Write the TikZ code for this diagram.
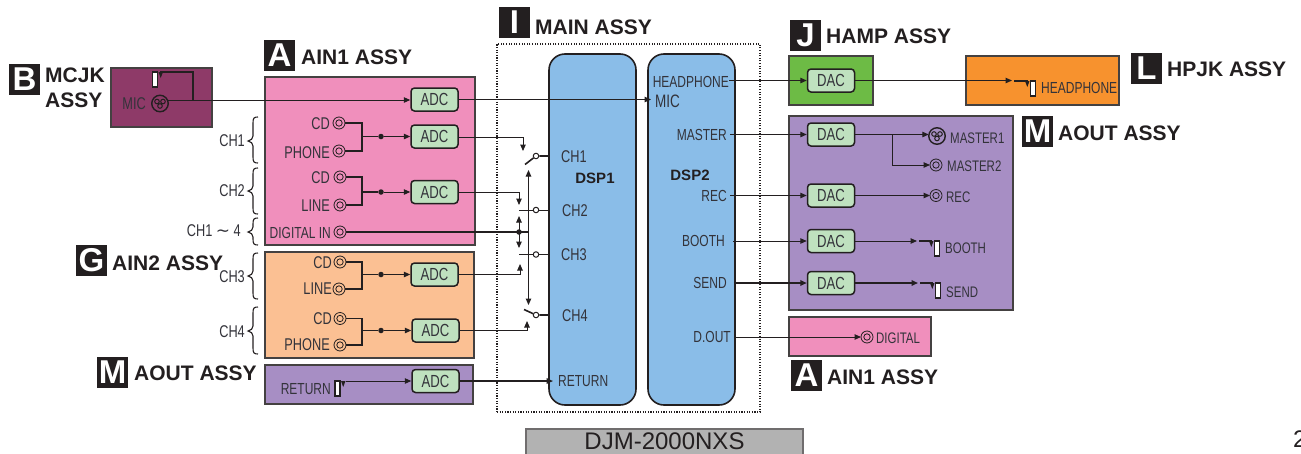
\documentclass[tikz,border=0pt]{standalone}
\usepackage{fontspec}
\setmainfont{Liberation Sans}
\newfontfamily\cond[FakeStretch=0.75]{Liberation Sans}
\newfontfamily\djfont{DejaVu Sans}
\usetikzlibrary{arrows.meta}
\definecolor{ink}{HTML}{231F20}
\definecolor{txt}{HTML}{33333A}
\definecolor{mcjkc}{HTML}{8E3A68}
\definecolor{pinkc}{HTML}{F08FBC}
\definecolor{peach}{HTML}{FBC093}
\definecolor{purp}{HTML}{A78EC4}
\definecolor{dspc}{HTML}{8ABDE8}
\definecolor{grn}{HTML}{6DBB45}
\definecolor{orng}{HTML}{F7922E}
\definecolor{chip}{HTML}{BFE1BF}
\tikzset{
 x=1pt,y=-1pt,
 >={Triangle[length=6.5pt,width=5.5pt]},
 wire/.style={draw=ink,line width=1pt},
 bus/.style={draw=ink,line width=1.6pt},
 assy/.style={draw=ink!85!white,line width=1.6pt,inner sep=0,outer sep=0},
 chipbox/.style={draw=ink,fill=chip,line width=1.5pt,rounded corners=3.5pt,minimum width=47pt,minimum height=23pt,inner sep=0,font=\cond\fontsize{17.5}{17}\selectfont,text=txt},
 dspbox/.style={draw=ink,fill=dspc,line width=1.6pt,rounded corners=16pt,minimum width=87pt,minimum height=351pt,inner sep=0},
 lbl/.style={font=\cond\fontsize{16}{16}\selectfont,text=txt,inner sep=0},
 big/.style={font=\cond\fontsize{17}{17}\selectfont,text=txt,inner sep=0},
 smalllab/.style={font=\cond\fontsize{15.3}{16}\selectfont,text=txt,inner sep=0},
 head/.style={font=\bfseries\fontsize{21}{22}\selectfont,text=ink,inner sep=0,anchor=west},
 badge/.style={fill=ink,text=white,minimum size=31pt,inner sep=0,font=\bfseries\fontsize{33}{33}\selectfont},
 coaxj/.style={circle,draw=ink,line width=0.8pt,minimum size=12pt,inner sep=0,outer sep=0},
 xlrj/.style={circle,draw=ink,line width=1.4pt,minimum size=16.5pt,inner sep=0,outer sep=0},
 phonej/.style={draw=ink,fill=white,line width=1.3pt,minimum width=5pt,minimum height=15pt,inner sep=0,outer sep=0,anchor=north},
 dotj/.style={circle,fill=ink,minimum size=5.5pt,inner sep=0},
 contact/.style={circle,draw=ink,fill=white,line width=1pt,minimum size=5.5pt,inner sep=0},
}
\newcommand{\coaxat}[3]{\node[coaxj] (#1) at (#2,#3) {}; \draw[ink,line width=0.8pt] (#1.center) circle (3.2pt);}
\newcommand{\xlrat}[3]{\node[xlrj] (#1) at (#2,#3) {};
 \draw[ink,line width=1pt] (#2-3,#3-2) circle (2.3pt) (#2+3,#3-2) circle (2.3pt) (#2,#3+2.5) circle (2.3pt);}
% phone jack fed from the left
\newcommand{\phoneat}[3]{\node[phonej] (#1) at (#2,#3) {};
 \coordinate (#1v) at (#2-5,#3);
 \fill[ink] (#2-8,#3) -- (#2-3.5,#3) -- (#2-5.7,#3+6) -- cycle;}
% phone jack whose lead leaves to the right
\newcommand{\phonerat}[3]{\node[phonej] (#1) at (#2,#3) {};
 \coordinate (#1v) at (#2+5,#3);
 \fill[ink] (#2+3.5,#3) -- (#2+8,#3) -- (#2+5.7,#3+6) -- cycle;}
\newcommand{\bracepath}[4]{\draw[ink,line width=1.1pt] (#1+10,#2) .. controls (#1+6,#2) and (#1+5,#2+1) .. (#1+5,#2+6) -- (#1+5,#3-5) .. controls (#1+5,#3-2) and (#1+3,#3-1) .. (#1,#3) .. controls (#1+3,#3+1) and (#1+5,#3+2) .. (#1+5,#3+5) -- (#1+5,#4-6) .. controls (#1+5,#4-1) and (#1+6,#4) .. (#1+10,#4);}
\begin{document}
\begin{tikzpicture}
\useasboundingbox (0,0) rectangle (1301,453);
% assemblies
\node[draw=ink,line width=1.1pt,dash pattern=on 1.1pt off 1.5pt,minimum width=263pt,minimum height=368pt,inner sep=0] (mainbox) at (628.5,228) {};
\node[assy,fill=mcjkc,minimum width=101pt,minimum height=59pt] (mcjk) at (161.5,97.5) {};
\node[assy,fill=pinkc,minimum width=210pt,minimum height=168pt] (ain1) at (370,161) {};
\node[assy,fill=peach,minimum width=209pt,minimum height=106pt] (ain2) at (369.5,305) {};
\node[assy,fill=purp,minimum width=208pt,minimum height=39pt] (aoutl) at (369,384.5) {};
\node[assy,fill=grn,minimum width=84pt,minimum height=49pt] (hamp) at (831,80.5) {};
\node[assy,fill=orng,minimum width=153pt,minimum height=49pt] (hpjk) at (1042.5,80.5) {};
\node[assy,fill=purp,minimum width=224pt,minimum height=194pt] (aoutr) at (901,213) {};
\node[assy,fill=pinkc,minimum width=142pt,minimum height=39pt] (ain1s) at (860,336.5) {};
\node[dspbox] (dsp1) at (592.5,229.5) {};
\node[dspbox] (dsp2) at (691.5,229.5) {};
\node[draw=ink!65!white,fill=black!30,line width=1.5pt,minimum width=277pt,minimum height=28pt,inner sep=0] (djm) at (664.5,443) {};
\node[inner sep=0,font=\fontsize{24}{24}\selectfont,text=ink] (djmt) at (664.5,441.5) {DJM-2000NXS};
\node[inner sep=0,anchor=west,font=\fontsize{24}{24}\selectfont,text=ink] (pageno) at (1293,439.5) {2};
% headings
\node[badge] (bB) at (24.5,79.5) {B};
\node[head] (hB1) at (45,75) {MCJK};
\node[head] (hB2) at (45,100) {ASSY};
\node[badge] (bA) at (279.5,55.5) {A};
\node[head] (hA) at (301,57) {AIN1 ASSY};
\node[badge] (bG) at (91.5,260.5) {G};
\node[head] (hG) at (112,263) {AIN2 ASSY};
\node[badge] (bM) at (112.5,372.5) {M};
\node[head] (hM) at (134,373.5) {AOUT ASSY};
\node[badge] (bI) at (514.5,22.5) {I};
\node[head] (hI) at (535,27) {MAIN ASSY};
\node[badge] (bJ) at (805.5,35.5) {J};
\node[head] (hJ) at (826,36) {HAMP ASSY};
\node[badge] (bL) at (1146.5,68.5) {L};
\node[head] (hL) at (1167,69) {HPJK ASSY};
\node[badge] (bM2) at (1037.5,131.5) {M};
\node[head] (hM2) at (1058,133) {AOUT ASSY};
\node[badge] (bA2) at (806.5,375.5) {A};
\node[head] (hA2) at (827,377) {AIN1 ASSY};
\node[inner sep=0,font=\bfseries\fontsize{15}{15}\selectfont,text=ink] (d1) at (595,178) {DSP1};
\node[inner sep=0,font=\bfseries\fontsize{15}{15}\selectfont,text=ink] (d2) at (690,175) {DSP2};
% converters
\node[chipbox] (adc0) at (434.5,99.5) {ADC};
\node[chipbox] (adc1) at (434.5,136.5) {ADC};
\node[chipbox] (adc2) at (434.5,192) {ADC};
\node[chipbox] (adc3) at (434.5,274.5) {ADC};
\node[chipbox] (adc4) at (435.5,330.5) {ADC};
\node[chipbox] (adc5) at (435.5,381) {ADC};
\node[chipbox] (dac0) at (831,80.5) {DAC};
\node[chipbox] (dac1) at (831,134.5) {DAC};
\node[chipbox] (dac2) at (831,195.5) {DAC};
\node[chipbox] (dac3) at (831,241) {DAC};
\node[chipbox] (dac4) at (831,283) {DAC};
% left labels
\node[big,anchor=east] (lch1) at (245,141) {CH1};
\node[big,anchor=east] (lch2) at (245,191) {CH2};
\node[big,anchor=east] (lch14) at (241,231) {CH1 {\djfont\fontsize{17}{17}\selectfont\char"223C} 4};
\node[big,anchor=east] (lch3) at (245,277) {CH3};
\node[big,anchor=east] (lch4) at (245,332) {CH4};
\bracepath{248}{117}{141}{163}
\bracepath{248}{168}{191}{214}
\bracepath{248}{218}{232}{245}
\bracepath{248}{253}{276}{299}
\bracepath{248}{307}{331}{354}
% input jacks
\node[big,anchor=east] (tmic) at (146,103.5) {MIC};
\xlrat{jmic}{160}{103.5}
\phonerat{jmicp}{155}{72}
\coordinate (micr) at (193,100);
\draw[wire,line width=1.3pt] (jmicpv) -- (micr |- jmicpv) -- (micr);
\draw[wire,->] (jmic.east |- micr) -- (adc0.west |- micr);
\node[big,anchor=east] (t1) at (330,124) {CD};
\node[big,anchor=east] (t2) at (330,153) {PHONE};
\coaxat{j1}{339}{123}\coaxat{j2}{339}{151}
\node[big,anchor=east] (t3) at (330,178) {CD};
\node[big,anchor=east] (t4) at (330,206) {LINE};
\coaxat{j3}{340}{177}\coaxat{j4}{340}{205}
\node[lbl,anchor=east] (t5) at (331,233) {DIGITAL IN};
\coaxat{j5}{340}{232}
\node[big,anchor=east] (t6) at (332,263) {CD};
\node[big,anchor=east] (t7) at (332,289) {LINE};
\coaxat{j6}{340}{262}\coaxat{j7}{339}{289}
\node[big,anchor=east] (t8) at (332,319) {CD};
\node[big,anchor=east] (t9) at (330,345) {PHONE};
\coaxat{j8}{340}{318.5}\coaxat{j9}{340}{345}
\node[lbl,anchor=east] (t10) at (331,389) {RETURN};
\phonerat{jret}{337.5}{381}
% input wiring
\foreach \pa/\pb/\pc/\pd in {j1/j2/adc1/136.5,j3/j4/adc2/192,j6/j7/adc3/274.5,j8/j9/adc4/330.5}{
 \draw[bus] (\pa.east) -- (362,0 |- \pa.east) -- (362,0 |- \pb.east) -- (\pb.east);
 \coordinate (m) at (362,\pd);
 \node[dotj] (dt\pc) at (381,\pd) {};
 \draw[bus] (m) -- (dt\pc);
 \draw[wire,->] (dt\pc) -- (\pc.west);
}
\draw[wire,->] (jretv) ++(3,0) -- (adc5.west);
% switches
\node[contact] (s1) at (536,156) {};
\node[contact] (s2) at (536,210) {};
\node[contact] (s3) at (536,254.5) {};
\node[contact] (s4) at (536,315) {};
\coordinate (p1) at (525,164.5);
\coordinate (p2) at (519,210);
\coordinate (p3) at (519,254.5);
\coordinate (p4) at (524,309.5);
\draw[bus] (p1) -- (s1) (s1) -- (s1 -| dsp1.west);
\draw[wire] (p2) -- (s2) (s2) -- (s2 -| dsp1.west);
\draw[wire] (p3) -- (s3) (s3) -- (s3 -| dsp1.west);
\draw[bus] (p4) -- (s4) (s4) -- (s4 -| dsp1.west);
\node[big,anchor=west] (c1) at (561,157) {CH1};
\node[big,anchor=west] (c2) at (562,210.5) {CH2};
\node[big,anchor=west] (c3) at (561,254.5) {CH3};
\node[big,anchor=west] (c4) at (562,315.5) {CH4};
\coordinate (a1) at (523,151);
\coordinate (a2) at (519,205);
\coordinate (a3) at (520,264);
\coordinate (a4) at (527,321);
\draw[wire,->] (adc1.east |- 0,137) -- (a1 |- 0,137) -- (a1);
\draw[wire,->] (adc2.east) -- (a2 |- adc2.east) -- (a2);
\draw[wire,->] (adc3.east) -- (a3 |- adc3.east) -- (a3);
\draw[wire,->] (adc4.east) -- (a4 |- adc4.east) -- (a4);
% digital in bus
\coordinate (dv) at (528.5,232);
\node[dotj] (dn) at (519,232) {};
\draw[bus] (j5.east) -- (dv);
\coordinate (u1) at (528.5,170);
\coordinate (u2) at (528.5,305);
\coordinate (v1) at (519,216);
\coordinate (v2) at (519,248);
\draw[wire,<->] (u1) -- (u2);
\draw[wire,<->] (v1) -- (v2);
% DSP labels
\node[lbl,anchor=east] (o0) at (729,82) {HEADPHONE};
\node[font=\cond\fontsize{18}{18}\selectfont,text=txt,inner sep=0,anchor=west] (imic) at (655,101) {MIC};
\node[lbl,anchor=east] (o1) at (727,135) {MASTER};
\node[lbl,anchor=east] (o2) at (727,196) {REC};
\node[lbl,anchor=east] (o3) at (725,241) {BOOTH};
\node[lbl,anchor=east] (o4) at (727,283) {SEND};
\node[lbl,anchor=east] (o5) at (731,337) {D.OUT};
\node[lbl,anchor=west] (iret) at (558,381) {RETURN};
\draw[wire,->] (adc0.east) -- (651,0 |- adc0.east);
\draw[bus,->] (adc5.east) -- (553,0 |- iret.west);
\draw[wire,->] (o0.east |- dac0.west) -- (dac0.west);
\draw[wire,->] (o1.east |- dac1.west) ++(3,0) -- (dac1.west);
\draw[wire,->] (o2.east |- dac2.west) ++(3,0) -- (dac2.west);
\draw[wire,->] (dsp2.east |- dac3.west) ++(-3,0) -- (dac3.west);
\draw[bus,->] (dsp2.east |- dac4.west) ++(-2,0) -- (dac4.west);
% outputs
\phoneat{jhp}{1033}{81}
\node[lbl,anchor=west] (thp) at (1041,88) {HEADPHONE};
\coordinate (ahp) at (1012,80.5);
\draw[wire,->] (dac0.east) -- (ahp);
\draw[wire,line width=1.3pt] (ahp) ++(2,0.5) -- (jhpv);
\xlrat{jm1}{937}{136}
\node[smalllab,anchor=west] (tm1) at (950,138) {MASTER1};
\coaxat{jm2}{936}{165}
\node[smalllab,anchor=west] (tm2) at (947,166) {MASTER2};
\coaxat{jrec}{936}{195.5}
\node[smalllab,anchor=west] (trec) at (946,197) {REC};
\coordinate (brm) at (892,134.5);
\draw[wire,->] (dac1.east) -- (jm1.west |- dac1.east);
\draw[wire,->] (brm) -- (892,165) -- (jm2.west);
\draw[wire,->] (dac2.east) -- (jrec.west);
\phoneat{jb}{937}{241}
\node[smalllab,anchor=west] (tb) at (945,248) {BOOTH};
\coordinate (ab) at (917,241);
\draw[wire,->] (dac3.east) -- (ab);
\draw[wire,line width=1.3pt] (ab) ++(2,0) -- (jbv);
\phoneat{js}{938}{283}
\node[smalllab,anchor=west] (ts) at (946,292) {SEND};
\coordinate (as) at (918,283);
\draw[bus,->] (dac4.east) -- (as);
\draw[wire,line width=1.3pt] (as) ++(2,0) -- (jsv);
\coaxat{jd}{867}{337}
\node[smalllab,anchor=west] (td) at (876,338) {DIGITAL};
\draw[wire,->] (dsp2.east |- jd) ++(-2,0) -- (jd.west);
\end{tikzpicture}
\end{document}
